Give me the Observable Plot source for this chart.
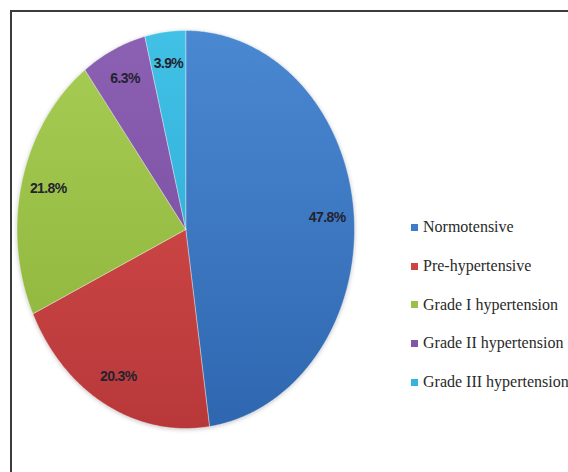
<!DOCTYPE html>
<html>
<head>
<meta charset="utf-8">
<script src="https://cdn.jsdelivr.net/npm/d3@7"></script>
<script src="https://cdn.jsdelivr.net/npm/@observablehq/plot@0.6"></script>
<style>
  html, body { margin: 0; padding: 0; background: #fff; overflow: hidden; }
  #wrap { position: relative; width: 568px; height: 472px; overflow: hidden; background: #fff; }
  #frame { position: absolute; left: 10px; top: 10px; width: 800px; height: 800px;
           border-left: 2px solid #3c3c3c; border-top: 2px solid #3c3c3c; }
  #chart { position: absolute; left: 0; top: 0; }
  #legend { position: absolute; left: 411px; top: 208px; white-space: nowrap;
            font-family: "Liberation Serif", "DejaVu Serif", serif; font-size: 16px; color: #2a2a2a; }
  #legend .row { height: 38.75px; line-height: 38.75px; display: flex; align-items: center; }
  #legend .sw { width: 7px; height: 7px; margin-right: 5px; flex: none; }
  .slices { filter: drop-shadow(0px 1px 2px rgba(0,0,0,0.22)); }
</style>
</head>
<body>
<div id="wrap">
  <div id="frame"></div>
  <div id="chart"></div>
  <div id="legend"></div>
</div>
<script>
// ---- data ----
const categories = ["Normotensive", "Pre-hypertensive", "Grade I hypertension", "Grade II hypertension", "Grade III hypertension"];
const values = [47.8, 20.3, 21.8, 6.3, 3.9];
const labels = ["47.8%", "20.3%", "21.8%", "6.3%", "3.9%"];

// ---- styles ----
const topColors = ["#4b88d2", "#db514d", "#a8cd54", "#8c60b2", "#42c1e7"];
const bottomColors = ["#2e67b0", "#b8383a", "#8ab139", "#73479a", "#27a5cf"];
const swatchColors = ["#3f7cc6", "#cc4443", "#9bc047", "#8056a8", "#33b4dc"];
const gradIds = categories.map((_, i) => `pieGrad${i}`);

// ---- geometry derived from data ----
const total = d3.sum(values);
let acc = 0;
const slices = categories.map((c, i) => {
  const a0 = acc / total * 2 * Math.PI;
  acc += values[i];
  const a1 = acc / total * 2 * Math.PI;
  return { c, a0, a1, label: labels[i] };
});
const pts = slices.flatMap(s => {
  const n = Math.max(2, Math.ceil((s.a1 - s.a0) / (Math.PI / 360)));
  const arr = [{ c: s.c, x: 0, y: 0 }];
  for (let k = 0; k <= n; k++) {
    const a = s.a0 + (s.a1 - s.a0) * k / n;
    arr.push({ c: s.c, x: Math.sin(a), y: Math.cos(a) });
  }
  arr.push({ c: s.c, x: 0, y: 0 });
  return arr;
});
const labelR = 0.84;
const labelPts = slices.map(s => {
  const m = (s.a0 + s.a1) / 2;
  return { c: s.c, label: s.label, x: labelR * Math.sin(m), y: labelR * Math.cos(m) };
});

const chart = Plot.plot({
  width: 568,
  height: 472,
  margin: 0,
  x: { domain: [-1, 1], range: [16.5, 354], axis: null },
  y: { domain: [-1, 1], range: [428, 30], axis: null },
  color: { domain: categories, range: gradIds.map(id => `url(#${id})`) },
  style: { background: "transparent", overflow: "visible" },
  marks: [
    Plot.line(pts, { x: "x", y: "y", z: "c", fill: "c", stroke: "#ffffff", strokeOpacity: 0.45, strokeWidth: 0.8, curve: "linear", className: "slices" }),
    Plot.text(labelPts, {
      x: "x", y: "y", text: "label",
      fill: "#23232f",
      fontSize: 14, fontWeight: "bold",
      fontFamily: "'Liberation Sans', Arimo, Arial, sans-serif"
    })
  ]
});

// gradients
const defs = d3.select(chart).insert("defs", ":first-child");
gradIds.forEach((id, i) => {
  const g = defs.append("linearGradient").attr("id", id)
    .attr("gradientUnits", "userSpaceOnUse")
    .attr("x1", 0).attr("y1", 30).attr("x2", 0).attr("y2", 428);
  g.append("stop").attr("offset", "0%").attr("stop-color", topColors[i]);
  g.append("stop").attr("offset", "100%").attr("stop-color", bottomColors[i]);
});
d3.select(chart).selectAll("text").attr("letter-spacing", "-0.6");
document.getElementById("chart").appendChild(chart);

// legend
const legend = d3.select("#legend");
categories.forEach((c, i) => {
  const row = legend.append("div").attr("class", "row");
  row.append("div").attr("class", "sw").style("background", swatchColors[i]);
  row.append("span").text(c);
});
</script>
</body>
</html>
